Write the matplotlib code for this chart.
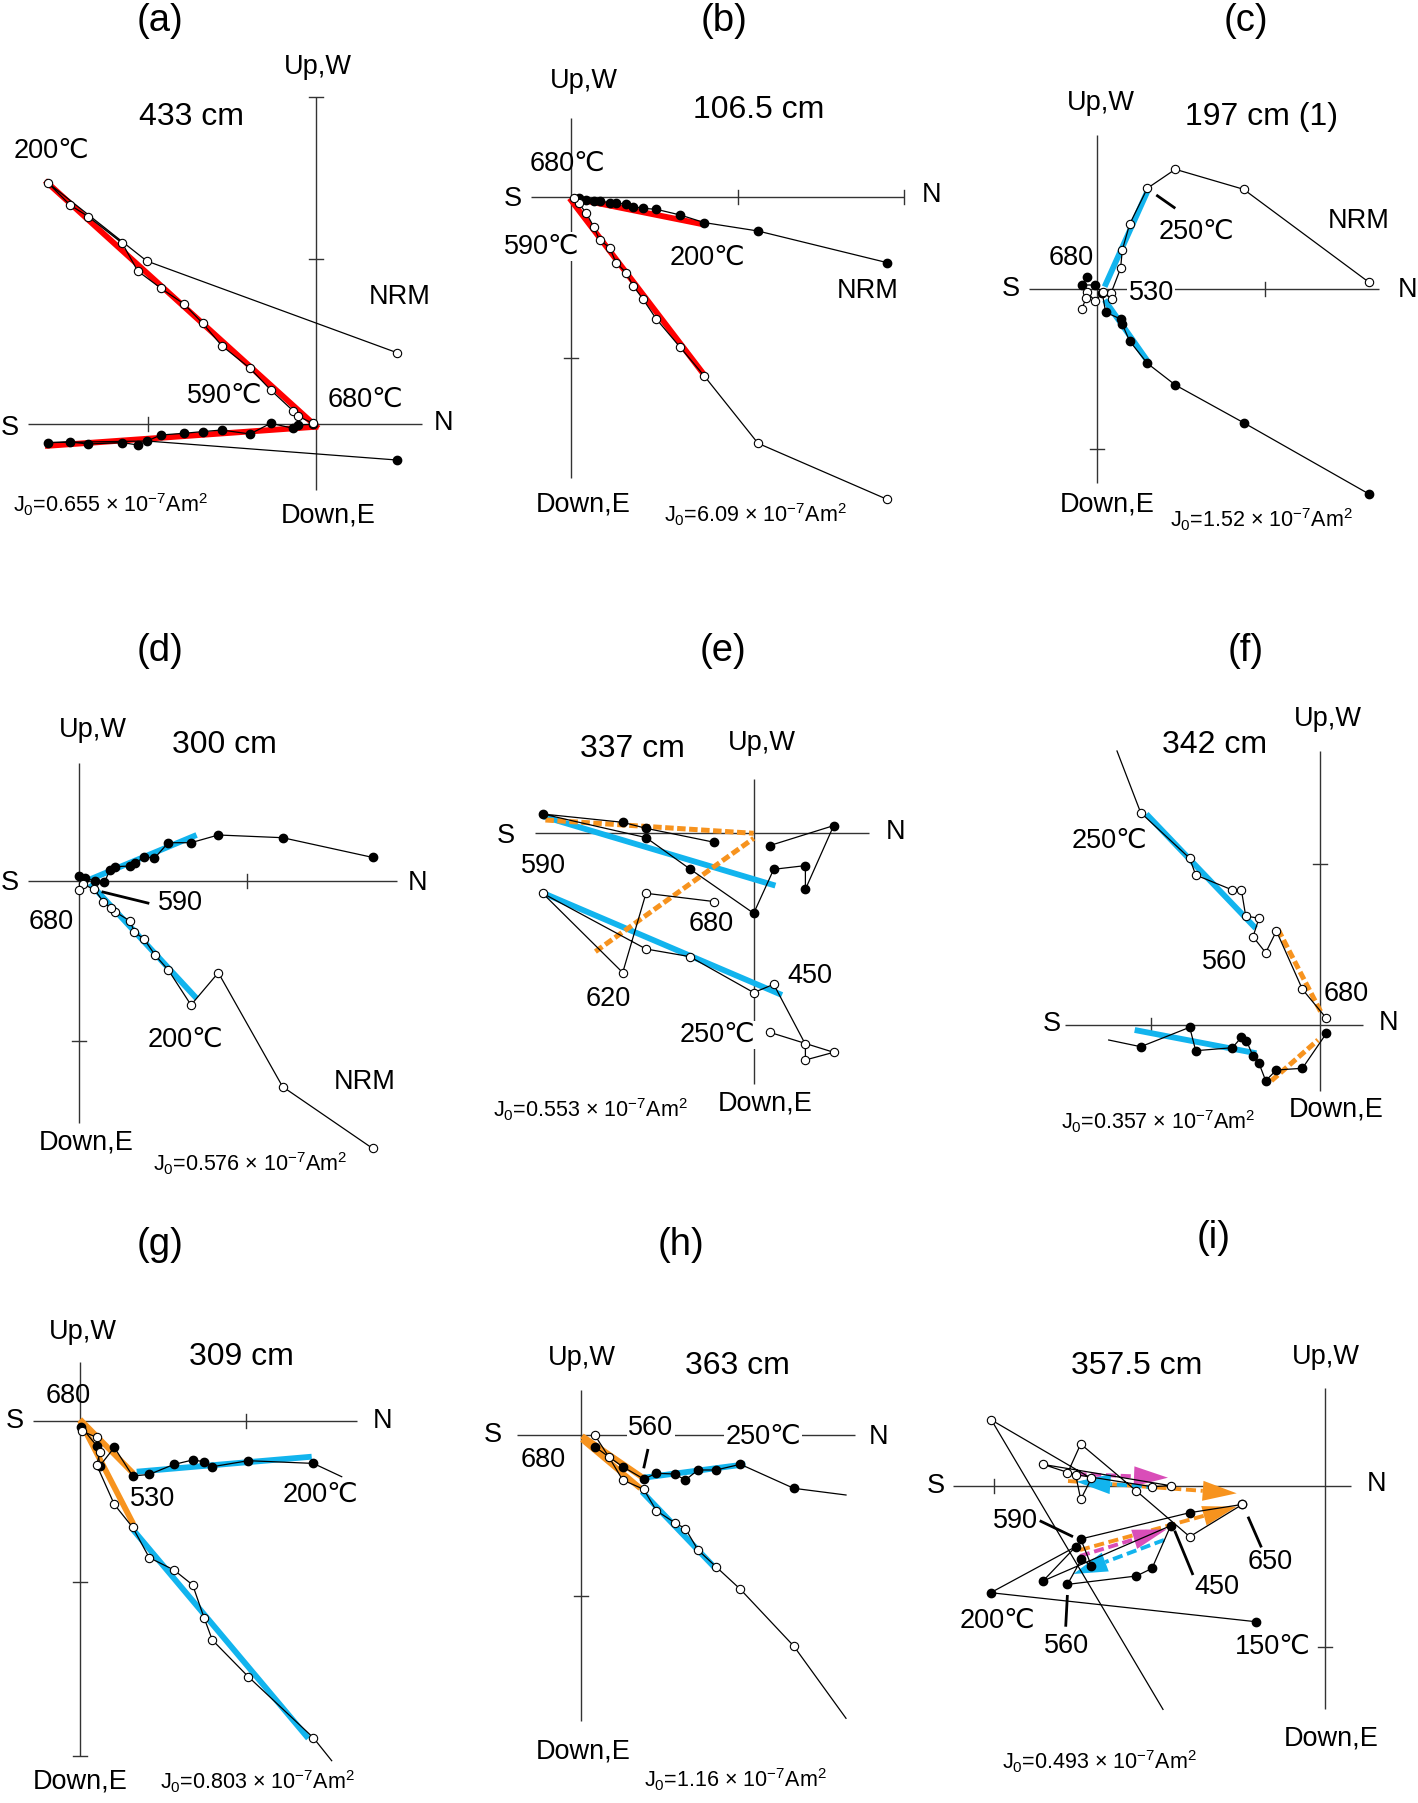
import matplotlib
matplotlib.use('Agg')
import matplotlib.pyplot as plt
from matplotlib.patches import Polygon
from matplotlib import font_manager
import numpy as np

plt.rcParams['font.family'] = ['Liberation Sans', 'DejaVu Sans']
plt.rcParams['mathtext.fontset'] = 'custom'
plt.rcParams['mathtext.rm'] = 'Liberation Sans'
plt.rcParams['mathtext.it'] = 'Liberation Sans'
plt.rcParams['mathtext.default'] = 'regular'

_names = {f.name for f in font_manager.fontManager.ttflist}
NARROW = 'Liberation Sans Narrow' if 'Liberation Sans Narrow' in _names else 'Liberation Sans'

# ---------------- DATA (N component vs. vertical / horizontal component, plot units) -------------
# open circles = vertical projection (N, Up), filled = horizontal projection (N, W)
A_open_n = [80.7, -169.3, -268.3, -246, -227.7, -193.7, -178.3, -155, -132, -113.3, -94.3, -66, -45.3, -22.7, -18.3, -3.3]
A_open_z = [71.7, 163.3, 241.7, 219.3, 207.7, 181, 153.3, 136, 120.3, 101, 78.7, 56, 34.3, 13.3, 8.3, 1]
A_fill_n = [80.7, -169.3, -267.7, -246, -227.7, -193.7, -178.3, -155, -132, -113.3, -94.3, -66, -45.3, -22.7, -18.3, -3.3]
A_fill_w = [-35.7, -16.7, -18.3, -17.7, -19.7, -18.3, -20.7, -10.7, -9, -7.3, -5.7, -9.7, 1, -4, -0.7, 0]

B_open_n = [315.7, 186.7, 133, 108.3, 85, 71.3, 61.7, 54.7, 44.7, 38.3, 28.3, 22.3, 14.7, 7.3, 2.3]
B_open_z = [-302, -246, -178.7, -149.3, -121.7, -101.3, -88.3, -75.3, -65.3, -50.3, -42.7, -29.3, -15.3, -6, -1]
B_fill_n = [315.7, 186.7, 133, 109, 85, 71.3, 61.7, 54.7, 44.7, 38.3, 28.3, 22.3, 14.7, 7.3]
B_fill_w = [-65.3, -33.7, -25.3, -17.7, -12, -11, -9.3, -6.7, -6, -5.3, -3.7, -3.3, -2.7, -0.3]

C_open_n = [271.7, 146.3, 78, 50, 32.3, 25, 23.3, 13.7, 14.4, 6, -2.3, -10.6, -11.3, -15.6]
C_open_z = [6.7, 99.7, 119.7, 100.7, 64.7, 39, 20.7, -4.3, -10.3, -3.3, -12, -2.7, -9.3, -20.3]
C_fill_n = [271.7, 146.3, 78, 50, 32.3, 25, 23.3, 8.3, 5, -2.3, -15.6, -10]
C_fill_w = [-205, -133.7, -96, -74.3, -52, -35.3, -30, -23.3, -4, 4, 4, 12.3]

D_open_n = [293.3, 203.3, 139, 111.7, 89, 75.7, 65, 55, 50.7, 35.7, 31.7, 24, 15, 4, -0.3]
D_open_z = [-267.7, -206, -92, -124.3, -89.3, -74.3, -58.7, -51, -40.3, -31, -27.7, -21, -8.7, -3.7, -9.3]
D_fill_n = [293.3, 203.3, 139, 111.7, 89, 75, 65, 55.7, 50.7, 35.7, 30.7, 25, 15.7, 5.7, -0.3]
D_fill_w = [23.3, 43, 45.7, 38, 38, 22.3, 24, 17.3, 14.7, 14, 10.7, -1.7, 0, 2.3, 5]

E_open_n = [16, 80, 51.7, 51.7, 20, 0, -64, -107.7, -211, -131, -107.7, -39.3]
E_open_z = [-199, -219, -226.7, -211, -151, -159.3, -123.3, -115.7, -60, -139.3, -60, -68.3]
E_fill_n = [16, 80, 51.7, 51.7, 20, 0, -63.3, -107.7, -211, -131, -107.7, -39.3]
E_fill_w = [-12.3, 7.7, -56, -32.3, -36, -80, -36, -4.3, 19.3, 11, 5, -9]

F_open_n = [-202.7, -179, -130, -124, -87.3, -78.3, -74, -60.7, -66.7, -54, -43.3, -17.3, 6.7]
F_open_z = [274, 212.3, 166.7, 150, 135, 135, 109, 106.7, 88.3, 72.3, 94, 35.7, 6.7]
F_fill_n = [-211, -179, -130, -124, -87.3, -78.3, -73.3, -66.7, -60.7, -54, -43.3, -17.3, 6.7]
F_fill_w = [-15, -21.7, -2.3, -25.7, -22.7, -12.3, -15.7, -31, -38.3, -55.7, -45, -43.3, -8.3]

G_open_n = [251.7, 233.3, 168.3, 132.3, 124.3, 112.7, 94, 69.3, 52.7, 34.3, 16.7, 20, 16.7, 1.7]
G_open_z = [-340, -317, -256, -219.3, -197.7, -164.3, -149.3, -137, -106.7, -83.7, -44.3, -31, -16.7, -10.3]
G_fill_n = [261.7, 233.3, 168.3, 132.3, 124.3, 112.7, 94, 69.3, 52.7, 34.3, 20, 16.7, 1]
G_fill_w = [-56, -42.7, -40, -46, -41, -39.3, -43.7, -53.7, -55.3, -26.7, -45, -25, -6]

H_open_n = [265.3, 213, 159.7, 135.3, 117.3, 104.7, 94, 75.7, 63, 42, 28, 14]
H_open_z = [-283.3, -211, -154.3, -131.7, -115, -93.7, -87.7, -75.7, -54.3, -45, -21.7, 0]
H_fill_n = [265.3, 213, 159.7, 135.3, 117.3, 104.7, 94, 75.7, 63, 42, 14]
H_fill_w = [-60, -53.3, -29.3, -35, -35, -45, -39, -38.3, -44, -31.7, -11.7]

I_open_n = [-161.7, -333.3, -233.3, -244, -249, -281.7, -154, -172.7, -257.3, -244, -188.3, -135, -82.3]
I_open_z = [-223.7, 65.7, 7.3, -13.7, 10.7, 21.3, 0, -1, 12.3, 41.7, -5.3, -51, -18.7]
I_fill_n = [-69, -334, -249, -281.7, -154, -172.7, -188.3, -257.3, -243.3, -233.3, -244, -135, -82.3]
I_fill_w = [-136, -107, -61, -95.3, -40, -82.7, -90.3, -98.7, -73.7, -80, -53.3, -27, -18.7]

# principal-component fits: (start N, end N), (start comp, end comp)
FITS = {
    'a': [('red', '-', (-271, 2.3), (243.7, -4)), ('red', '-', (-271, 2.3), (-21.7, -2.3))],
    'b': [('red', '-', (-1.7, 133), (-1, -177.7)), ('red', '-', (0.7, 131.7), (-0.7, -27))],
    'c': [('blue', '-', (7.3, 50.7), (2.3, 99)), ('blue', '-', (7.3, 50.7), (-11, -72.7))],
    'd': [('blue', '-', (10.7, 117.3), (-2.7, -117.7)), ('blue', '-', (10.7, 117.3), (1.3, 45.7))],
    'e': [('blue', '-', (-210, 21.7), (16.7, -52.3)), ('blue', '-', (-210, 28.3), (-60, -161.7)),
          ('orange', '--', (-208.3, 0), (13.3, 0)), ('orange', '--', (-158.3, 0), (-118.3, -5))],
    'f': [('blue', '-', (-173.3, -64), (211, 96.7)), ('blue', '-', (-185, -63.3), (-5, -28.3)),
          ('orange', '--', (-41.7, 1), (95.7, 13.3)), ('orange', '--', (-48.3, -1.7), (-55.7, -15))],
    'g': [('blue', '-', (56.7, 231.7), (-51, -36)), ('blue', '-', (53.3, 228.3), (-109.3, -317.7)),
          ('orange', '-', (0, 53.3), (1.3, -52.7)), ('orange', '-', (0, 53.3), (0, -103.3))],
    'h': [('blue', '-', (63, 164.7), (-42.7, -29.3)), ('blue', '-', (61.3, 134.7), (-56.7, -133.3)),
          ('orange', '-', (1.3, 63), (-1, -43.3)), ('orange', '-', (1.3, 59.7), (-4.3, -53.3))],
}
# panel (i): fitted directions drawn as arrows (tail N, tail comp, tip N, tip comp)
I_ARROWS = [
    ('orange', -256.7, 4.7, -88.0, -7.6),
    ('magenta', -248.3, 11.7, -156.7, 8.0),
    ('blue', -168.3, -1.7, -248.3, 4.0),
    ('orange', -244.7, -64.3, -88.0, -21.0),
    ('magenta', -244.7, -70.3, -158.0, -43.6),
    ('blue', -160.7, -54.3, -251.3, -88.3),
]

TITLES = {'a': '433 cm', 'b': '106.5 cm', 'c': '197 cm (1)', 'd': '300 cm', 'e': '337 cm',
          'f': '342 cm', 'g': '309 cm', 'h': '363 cm', 'i': '357.5 cm'}
J0 = {'a': '0.655', 'b': '6.09', 'c': '1.52', 'd': '0.576', 'e': '0.553',
      'f': '0.357', 'g': '0.803', 'h': '1.16', 'i': '0.493'}

# ---------------- LAYOUT / STYLE ----------------
W, H = 1418, 1803
COL = {'red': '#ff0000', 'blue': '#12b4ee', 'orange': '#f7931e', 'magenta': '#d94db8'}
AXC = '#333333'
DEG = '\u2103'

LAYOUT = {
    'a': dict(origin=(316, 424.3), xaxis=(-287.7, 105.7), yaxis=(-65.7, 327.7), xt=[-167.7], yt=[165, 327.7],
              letter=(-156, 403.3), title=(-124.3, 307), up=(2.3, 357.7), down=(12.3, -91.7),
              S=(-306, -4), N=(127.3, 1.7), j0=(-302.7, -80.7), skip=(0, 0),
              labels=[('200' + DEG, -264.3, 273.7, False), ('NRM', 84, 127, False), ('590' + DEG, -91, 28.3, False),
                      ('680' + DEG, 49, 24.3, False)], leaders=[]),
    'b': dict(origin=(571.3, 197.3), xaxis=(-40, 332.3), yaxis=(-281, 79), xt=[166.3, 332.3], yt=[-161],
              letter=(153.2, 176.6), title=(187.3, 87.3), up=(12.3, 116.7), down=(11.7, -307),
              S=(-58.7, -2), N=(360.7, 2.3), j0=(92.3, -317.7), skip=(0, 0),
              labels=[('680' + DEG, -4.3, 33.3, False), ('590' + DEG, -30, -49.3, True),
                      ('200' + DEG, 135.7, -60.3, False), ('NRM', 296.3, -93.3, False)], leaders=[]),
    'c': dict(origin=(1097.3, 289), xaxis=(-68.3, 281.7), yaxis=(-194.3, 154), xt=[167.3], yt=[-160.3],
              letter=(148.2, 268.3), title=(164, 172.3), up=(4, 185.7), down=(10, -215.3),
              S=(-86, -0.3), N=(310.7, -1), j0=(72.3, -231), skip=(0, 0),
              labels=[('250' + DEG, 99, 57.3, False), ('NRM', 261.7, 68.3, False), ('680', -26, 30.7, False),
                      ('530', 54, -3.7, True)], leaders=[((59, 78), (94, 80.7))]),
    'd': dict(origin=(79.3, 880.7), xaxis=(-51, 317.3), yaxis=(-242.7, 117.3), xt=[167.3], yt=[-160.3],
              letter=(80.6, 229.7), title=(145, 135.7), up=(13.3, 150.7), down=(7.3, -262),
              S=(-69.3, -2), N=(338.3, -2), j0=(74, -282.7), skip=(0, 0),
              labels=[('590', 100.7, -22.7, False), ('680', -27.7, -41.7, False),
                      ('200' + DEG, 105.7, -158.7, False), ('NRM', 285.7, -201, False)],
              leaders=[((22.3, 70), (-11, -22.7))]),
    'e': dict(origin=(753.7, 833.3), xaxis=(-218.3, 115), yaxis=(-251, 54), xt=[], yt=[],
              letter=(-30.3, 182.3), title=(-121.7, 84), up=(8.3, 90), down=(11.7, -270),
              S=(-248.3, -2.7), N=(141.7, 1.7), j0=(-261, -276.7), skip=(0, 0),
              labels=[('590', -210, -32.7, False), ('680', -42.3, -91, False), ('620', -145, -166, False),
                      ('450', 55.7, -142.7, False), ('250' + DEG, -36.7, -201.7, True)], leaders=[]),
    'f': dict(origin=(1319.7, 1025), xaxis=(-255, 43.3), yaxis=(-66, 274), xt=[-168.3], yt=[161],
              letter=(-74.2, 374), title=(-105, 280), up=(8.3, 305.7), down=(16.7, -84.3),
              S=(-268.3, 0.7), N=(69.3, 1.7), j0=(-258.3, -96.7), skip=(1, 1),
              labels=[('250' + DEG, -210, 184.3, False), ('560', -95, 63.3, False), ('680', 26, 31, False)],
              leaders=[]),
    'g': dict(origin=(80, 1420.7), xaxis=(-46.7, 276.7), yaxis=(-335.3, 59), xt=[166], yt=[-161, -335.3],
              letter=(79.9, 175.3), title=(161, 63.3), up=(3.3, 89), down=(0, -360.3),
              S=(-65, 0), N=(302.7, 0), j0=(80, -361), skip=(1, 1),
              labels=[('680', -11.7, 24.7, False), ('530', 72.7, -78.7, False), ('200' + DEG, 240, -74.3, False)],
              leaders=[]),
    'h': dict(origin=(580.7, 1435), xaxis=(-63.7, 274), yaxis=(-286, 45), xt=[], yt=[-160.7],
              letter=(100.1, 189.6), title=(156.3, 69), up=(1.3, 76.7), down=(2.3, -316.7),
              S=(-88, 0), N=(298, -1.7), j0=(63, -345), skip=(1, 1),
              labels=[('560', 70.3, 7.3, True), ('250' + DEG, 182.3, -1.7, True), ('680', -37.7, -25, False)],
              leaders=[((67.3, 63), (-14, -33.3))]),
    'i': dict(origin=(1324.7, 1485.7), xaxis=(-371.7, 26.7), yaxis=(-223.7, 98), xt=[-330.7], yt=[-161],
              letter=(-111.4, 247.2), title=(-187.7, 120), up=(1, 128.3), down=(6.7, -252.7),
              S=(-388.7, 0), N=(51.7, 1.7), j0=(-322.3, -276), skip=(1, 0),
              labels=[('590', -309, -35, False), ('650', -54.3, -76.7, False), ('450', -107.7, -101.7, False),
                      ('200' + DEG, -327.7, -135, False), ('560', -257.7, -160.3, False),
                      ('150' + DEG, -51.7, -161, False)],
              leaders=[((-285, -251.7), (-35, -51)), ((-257.3, -259), (-109.3, -141)),
                       ((-150, -131.7), (-45, -89.3)), ((-76.7, -63.3), (-31, -61.7))]),
}

DATA = {
    'a': (A_open_n, A_open_z, A_fill_n, A_fill_w),
    'b': (B_open_n, B_open_z, B_fill_n, B_fill_w),
    'c': (C_open_n, C_open_z, C_fill_n, C_fill_w),
    'd': (D_open_n, D_open_z, D_fill_n, D_fill_w),
    'e': (E_open_n, E_open_z, E_fill_n, E_fill_w),
    'f': (F_open_n, F_open_z, F_fill_n, F_fill_w),
    'g': (G_open_n, G_open_z, G_fill_n, G_fill_w),
    'h': (H_open_n, H_open_z, H_fill_n, H_fill_w),
    'i': (I_open_n, I_open_z, I_fill_n, I_fill_w),
}

FS_LETTER, FS_TITLE, FS_LAB, FS_J0 = 27.5, 23, 19.5, 15.5
TICK = 7

fig = plt.figure(figsize=(W / 100, H / 100), dpi=100)
fig.patch.set_facecolor('white')


def draw_panel(key):
    L = LAYOUT[key]
    ox, oy = L['origin']
    ax = fig.add_axes([0, 0, 1, 1])
    ax.patch.set_alpha(0)
    ax.axis('off')
    # axes cross
    x0, x1 = L['xaxis']
    y0, y1 = L['yaxis']
    ax.plot([x0, x1], [0, 0], color=AXC, lw=1.0, zorder=1, solid_capstyle='butt')
    ax.plot([0, 0], [y0, y1], color=AXC, lw=1.0, zorder=1, solid_capstyle='butt')
    for t in L['xt']:
        ax.plot([t, t], [-TICK, TICK], color=AXC, lw=1.0, zorder=1)
    for t in L['yt']:
        ax.plot([-TICK, TICK], [t, t], color=AXC, lw=1.0, zorder=1)
    # fits
    for c, ls, xs, ys in FITS.get(key, []):
        if ls == '--':
            ax.plot(xs, ys, color=COL[c], lw=3.6, zorder=2, linestyle=(0, (1.7, 0.7)),
                    dash_capstyle='butt', solid_capstyle='butt')
        else:
            ax.plot(xs, ys, color=COL[c], lw=4.2, zorder=2, solid_capstyle='butt')
    if key == 'i':
        for c, tn, tz, hn, hz in I_ARROWS:
            d = np.array([hn - tn, hz - tz])
            length = np.hypot(*d)
            u = d / length
            p = np.array([-u[1], u[0]])
            hl, hw = 34.0, 10.0
            base = np.array([hn, hz]) - hl * u
            ax.plot([tn, base[0]], [tz, base[1]], color=COL[c], lw=2.8, zorder=2,
                    linestyle=(0, (2.6, 1.2)), dash_capstyle='butt')
            tri = Polygon([[hn, hz], base + hw * p, base - hw * p], closed=True,
                          facecolor=COL[c], edgecolor='none', zorder=2)
            ax.add_patch(tri)
    # data
    on, oz, fn, fw = DATA[key]
    so, sf = L['skip']
    ax.plot(fn, fw, color='k', lw=0.9, zorder=3)
    ax.plot(fn[sf:], fw[sf:], 'o', color='k', ms=6, zorder=4)
    ax.plot(on, oz, color='k', lw=0.9, zorder=3)
    ax.plot(on[so:], oz[so:], 'o', mfc='white', mec='k', mew=0.8, ms=6, zorder=5)
    # leaders
    for xs, ys in L['leaders']:
        ax.plot(xs, ys, color='k', lw=2.0, zorder=3, solid_capstyle='butt')
    # text
    fam = [NARROW, 'Liberation Sans', 'DejaVu Sans'] if key == 'i' else ['Liberation Sans', 'DejaVu Sans']
    ax.text(*L['letter'], f'({key})', fontsize=FS_LETTER, ha='center', va='center')
    ax.text(*L['title'], TITLES[key], fontsize=FS_TITLE, ha='center', va='center')
    ax.text(*L['up'], 'Up,W', fontsize=FS_LAB, ha='center', va='center')
    ax.text(*L['down'], 'Down,E', fontsize=FS_LAB, ha='center', va='center')
    ax.text(*L['S'], 'S', fontsize=FS_LAB, ha='center', va='center')
    ax.text(*L['N'], 'N', fontsize=FS_LAB, ha='center', va='center')
    for s, x, y, box in L['labels']:
        kw = {}
        if box:
            kw['bbox'] = dict(facecolor='white', edgecolor='none', pad=1.0)
        ax.text(x, y, s, fontsize=FS_LAB, ha='center', va='center', zorder=6, family=fam, **kw)
    ax.text(*L['j0'], 'J$_0$=' + J0[key] + ' × 10$^{-7}$Am$^2$', fontsize=FS_J0,
            ha='left', va='center')
    ax.set_xlim(-ox, W - ox)
    ax.set_ylim(oy - H, oy)


for k in ['a', 'b', 'c', 'd', 'e', 'f', 'g', 'h', 'i']:
    draw_panel(k)

fig.savefig('out.png', dpi=100, facecolor='white')
